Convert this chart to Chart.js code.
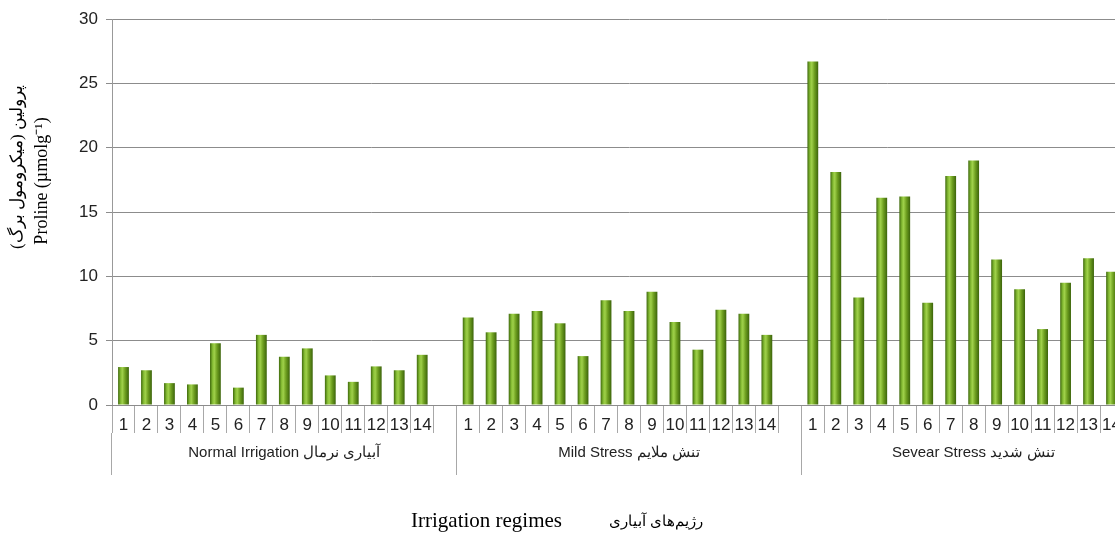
<!DOCTYPE html>
<html>
<head>
<meta charset="utf-8">
<script src="https://cdn.jsdelivr.net/npm/chart.js@4"></script>
<style>
  html, body { margin: 0; padding: 0; background: #fff; overflow: hidden; }
  #wrap { width: 1115px; height: 535px; overflow: hidden; }
</style>
</head>
<body>
<div id="wrap"><canvas id="proline" width="1150" height="535"></canvas></div>
<script>
// genotype numbers inside each irrigation group
var genotypes = ['1','2','3','4','5','6','7','8','9','10','11','12','13','14'];
// irrigation regimes (group labels under the numbers)
var regimes = ['Normal Irrigation آبیاری نرمال', 'Mild Stress تنش ملایم', 'Sevear Stress تنش شدید'];
// proline values
var normalIrr = [2.95, 2.7, 1.7, 1.6, 4.8, 1.35, 5.45, 3.75, 4.4, 2.3, 1.8, 3.0, 2.7, 3.9];
var mildStress = [6.8, 5.65, 7.1, 7.3, 6.35, 3.8, 8.15, 7.3, 8.8, 6.45, 4.3, 7.4, 7.1, 5.45];
var severeStress = [26.7, 18.1, 8.35, 16.1, 16.2, 7.95, 17.8, 19.0, 11.3, 9.0, 5.9, 9.5, 11.4, 10.35];
var yTicks = [0, 5, 10, 15, 20, 25, 30];

// one empty slot after each group, like the original
var labels = [];
var values = [];
[normalIrr, mildStress, severeStress].forEach(function (grp) {
  genotypes.forEach(function (g, i) { labels.push(g); values.push(grp[i]); });
  labels.push('');
  values.push(null);
});

// cylinder look for the bars
function barFill(c) {
  var chart = c.chart;
  var xs = chart.scales.x;
  if (!xs || !chart.chartArea) return '#6b9e1f';
  var cx = xs.getPixelForValue(c.dataIndex);
  var g = chart.ctx.createLinearGradient(cx - 5.5, 0, cx + 5.5, 0);
  g.addColorStop(0, '#3c660b');
  g.addColorStop(0.25, '#86bd34');
  g.addColorStop(0.4, '#9fd04a');
  g.addColorStop(0.65, '#6e9f20');
  g.addColorStop(1, '#3a620a');
  return g;
}

// axis titles (two scripts, two sizes)
var axisTitles = {
  id: 'axisTitles',
  afterDraw: function (chart) {
    var ctx = chart.ctx;
    ctx.save();
    ctx.fillStyle = '#000';
    ctx.textBaseline = 'middle';
    // y title
    ctx.save();
    ctx.translate(18, 167);
    ctx.rotate(-Math.PI / 2);
    ctx.direction = 'rtl';
    ctx.textAlign = 'center';
    ctx.font = '17px "Liberation Serif", "DejaVu Serif", serif';
    ctx.fillText('پرولین (میکرومول برگ)', 0, 0);
    ctx.restore();
    ctx.save();
    ctx.translate(42, 181);
    ctx.rotate(-Math.PI / 2);
    ctx.textAlign = 'center';
    ctx.font = '18px "Liberation Serif", serif';
    ctx.fillText('Proline (µmolg⁻¹)', 0, 0);
    ctx.restore();
    // x title
    ctx.textAlign = 'left';
    ctx.font = '21px "Liberation Serif", serif';
    ctx.fillText('Irrigation regimes', 411, 521);
    ctx.direction = 'rtl';
    ctx.textAlign = 'center';
    ctx.font = '15px "Liberation Serif", "DejaVu Serif", serif';
    ctx.fillText('رژیم‌های آبیاری', 656, 522);
    ctx.restore();
  }
};

new Chart(document.getElementById('proline'), {
  type: 'bar',
  plugins: [axisTitles],
  data: {
    labels: labels,
    datasets: [{
      data: values,
      backgroundColor: barFill,
      borderWidth: 0,
      barPercentage: 0.47,
      categoryPercentage: 1
    }]
  },
  options: {
    responsive: false,
    animation: false,
    layout: { padding: { left: 0, top: 19, right: 4, bottom: 60 } },
    plugins: { legend: { display: false }, tooltip: { enabled: false } },
    scales: {
      y: {
        min: 0,
        max: 30,
        afterFit: function (s) { s.width = 112; },
        afterBuildTicks: function (s) { s.ticks = yTicks.map(function (v) { return { value: v }; }); },
        ticks: { color: '#222', padding: 8, font: { family: 'Liberation Sans', size: 17 } },
        grid: { color: '#8c8c8c', tickLength: 6 },
        border: { color: '#999' }
      },
      x: {
        weight: 0,
        afterFit: function (s) { s.height = 28; },
        ticks: {
          autoSkip: false, maxRotation: 0, color: '#222', padding: -18,
          font: { family: 'Liberation Sans', size: 17 }
        },
        grid: { offset: true, drawOnChartArea: false, tickLength: 28, color: '#a8a8a8' },
        border: { color: '#8c8c8c' }
      },
      x2: {
        type: 'category',
        position: 'bottom',
        weight: 1,
        labels: regimes,
        afterFit: function (s) { s.height = 42; },
        ticks: {
          autoSkip: false, maxRotation: 0, color: '#222', padding: -31,
          font: { family: 'Liberation Sans', size: 15 }
        },
        grid: { offset: true, drawOnChartArea: false, tickLength: 42, color: '#a8a8a8' },
        border: { display: false }
      }
    }
  }
});
</script>
</body>
</html>
